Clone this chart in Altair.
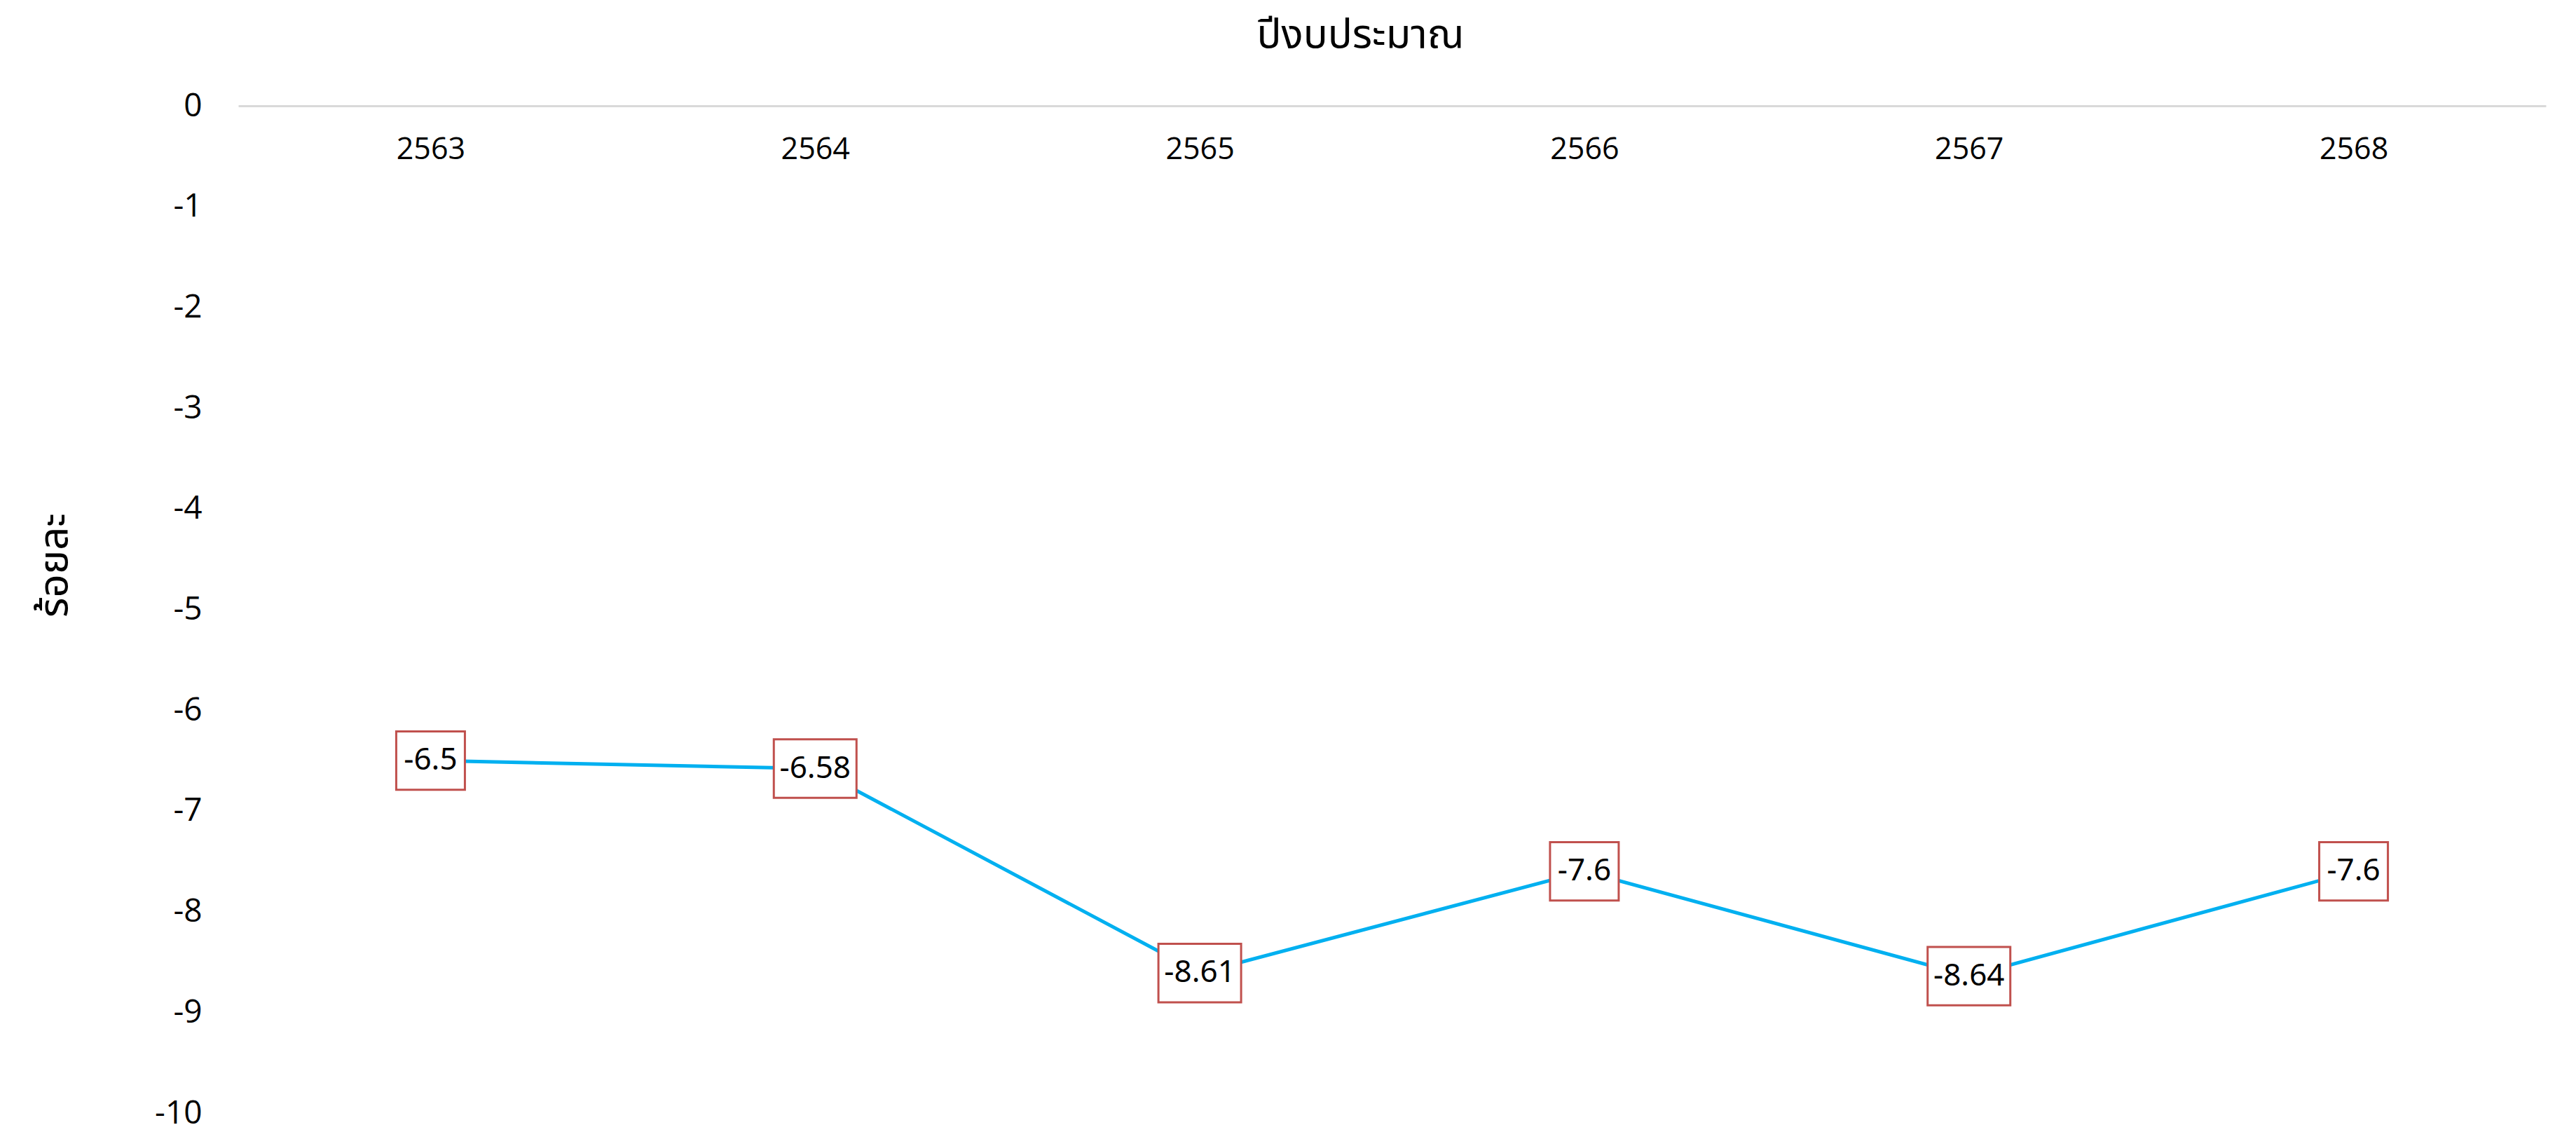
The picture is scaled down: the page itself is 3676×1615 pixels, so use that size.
import altair as alt
import pandas as pd

years = ["2563", "2564", "2565", "2566", "2567", "2568"]
values = [-6.5, -6.58, -8.61, -7.6, -8.64, -7.6]
labels = ["-6.5", "-6.58", "-8.61", "-7.6", "-8.64", "-7.6"]
y_ticks = [0, -1, -2, -3, -4, -5, -6, -7, -8, -9, -10]

df = pd.DataFrame({"year": years, "value": values, "label": labels})

W, H = 3293, 1437
TICK_FONT = "Open Sans"
THAI_FONT = "Noto Sans Thai, Noto Sans, sans-serif"

x_enc = alt.X(
    "year:O",
    sort=years,
    scale=alt.Scale(type="point", padding=0.5),
    axis=alt.Axis(
        orient="top",
        title="ปีงบประมาณ",
        titleFont=THAI_FONT,
        titleFontSize=58,
        titleFontWeight="normal",
        titleColor="#000000",
        titleBaseline="middle",
        titleX=1601,
        titleY=-101,
        labelFont=TICK_FONT,
        labelFontSize=43,
        labelColor="#000000",
        labelAngle=0,
        labelBaseline="middle",
        labelPadding=-62,
        ticks=False,
        tickSize=0,
        domain=True,
        domainColor="#d9d9d9",
        domainWidth=3,
        grid=False,
    ),
)

y_scale = alt.Scale(domain=[-10, 0], nice=False, zero=False)
y_axis = alt.Axis(
    values=y_ticks,
    labelExpr="'' + datum.value",
    title="ร้อยละ",
    titleFont=THAI_FONT,
    titleFontSize=58,
    titleFontWeight="normal",
    titleColor="#000000",
    titleX=-262,
    titleY=655,
    titleBaseline="middle",
    labelFont=TICK_FONT,
    labelFontSize=46,
    labelColor="#000000",
    labelPadding=52,
    ticks=False,
    tickSize=0,
    domain=False,
    grid=False,
)

base = alt.Chart(df)

line = base.mark_line(color="#00B0F0", strokeWidth=5).encode(
    x=x_enc,
    y=alt.Y("value:Q", scale=y_scale, axis=y_axis),
)

boxes = base.transform_calculate(
    lo="datum.value - 0.29",
    hi="datum.value + 0.29",
    bw="length(datum.label) * 20 + 18",
).mark_bar(fill="#ffffff", stroke="#C0504D", strokeWidth=3).encode(
    x=alt.X("year:O", sort=years),
    y=alt.Y("lo:Q"),
    y2=alt.Y2("hi:Q"),
    size=alt.Size("bw:Q", scale=None, legend=None),
)

texts = base.mark_text(
    font="Noto Sans",
    fontSize=44,
    color="#000000",
    align="center",
    baseline="middle",
).encode(
    x=alt.X("year:O", sort=years),
    y=alt.Y("value:Q"),
    text="label:N",
)

chart = (
    alt.layer(line, boxes, texts, view=alt.ViewBackground(stroke="transparent", strokeWidth=0))
    .properties(
        width=W,
        height=H,
        autosize=alt.AutoSizeParams(type="none"),
        padding={"left": 332, "top": 143, "right": 35, "bottom": 19},
    )
    .configure_view(stroke="transparent", strokeWidth=0, strokeOpacity=0)
    .configure(background="#ffffff")
)

chart.save("out.html", embed_options={"renderer": "svg", "actions": False})
